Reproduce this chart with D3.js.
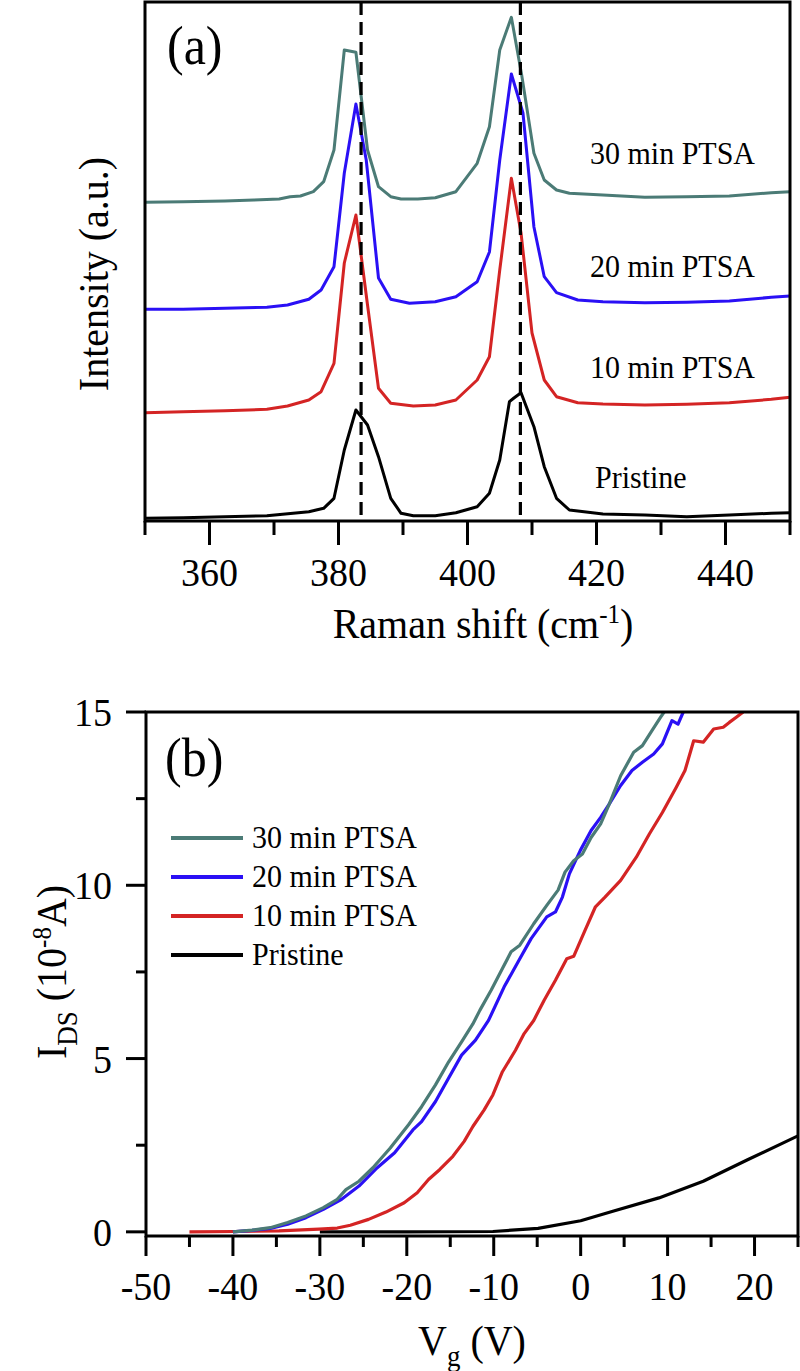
<!DOCTYPE html>
<html><head><meta charset="utf-8">
<script src="https://cdn.jsdelivr.net/npm/d3@7"></script>
<style>
body{margin:0;background:#fff}
svg{display:block}
text{font-family:"Liberation Serif","Times New Roman",serif;fill:#000}
</style>
</head><body>
<svg id="chart" width="800" height="1371"></svg>
<script>
// ---------- Panel (a): Raman spectra (intensity in arbitrary units) ----------
const ramanX30 = [350,355.9,362.4,366.9,370.8,372.5,374.1,376.1,377.7,379.3,380.9,382.7,384.5,386.2,388.1,389.7,392.3,395.0,398.2,401.5,403.4,405.0,406.8,408.4,410.3,411.9,413.8,415.8,421.0,427.5,434.0,440.6,447.1,450];
const ramanY30 = [318.7,319.3,320,321,322,324.3,325,329.3,339.3,371,471,468.7,371,334.3,324.3,322,322,323.3,329.3,357.7,394.3,471,503.7,446,367.7,341,331,327.7,326,323.7,324.3,325,328.3,329.3];
const ramanX20 = [350,355.9,362.4,368.9,372.1,375.4,377.3,379.3,380.9,382.7,384.3,386.2,388.1,391.0,395.0,398.2,401.5,403.4,405.0,406.8,408.6,410.3,411.9,413.8,417.1,421.0,427.5,434.0,440.6,447.1,450];
const ramanY20 = [211.7,211.7,212.7,213.7,216,221.7,231,254.3,348,417,361,243,221.7,217.7,219.3,224.3,239.3,269,361,447,408,294,244.3,228.3,221,219.3,218.3,218.7,220,223.7,225];
const ramanX10 = [350,355.9,362.4,368.9,372.1,375.4,377.3,379.3,380.9,382.7,384.5,386.2,388.1,391.6,395.0,398.2,401.5,403.4,405.0,406.8,408.3,410.0,411.9,413.8,417.1,421.0,427.5,434.0,440.6,447.1,450];
const ramanY10 = [108.3,109.3,110.3,111.7,115,121,129.3,157.7,258,306,216,132.7,117.7,115,116,121,141,164.3,251,342.7,288,188,141,124.3,118.3,117,116,116.7,118.3,121.7,123.7];
const ramanXP = [350,355.9,362.4,368.9,375.4,377.7,379.3,380.9,382.7,384.5,386.2,388.1,389.7,391.6,395.0,398.2,401.5,403.4,405.0,406.5,407.2,408.3,410.3,411.9,413.8,415.8,421.0,427.5,434.0,440.6,447.1,450];
const ramanYP = [2.7,3.3,4.3,5.3,9.3,12.7,22.7,71,111,96,64.3,22.7,7.7,5.3,5.3,8.3,14.3,27.7,61,119.3,123,128.3,94.3,54.3,22.7,11,7,6,4.3,6,7.7,8.3];
const ramanLabels = ["30 min PTSA","20 min PTSA","10 min PTSA","Pristine"];
const peakLines = [383.5, 408.2];
const ramanTicksMajor = [360,380,400,420,440];
const ramanTicksMinor = [350,370,390,410,430,450];

// ---------- Panel (b): transfer curves ----------
const vg30 = [-40,-37.8,-35.7,-33.7,-31.6,-29.6,-28,-27,-25.5,-23.9,-21.9,-19.8,-18.3,-16.7,-15.2,-13.7,-12.4,-11.6,-10.3,-9.0,-8.0,-7.0,-5.4,-3.9,-2.6,-1.8,-0.8,0.2,1.2,2.3,3.3,4.6,6.1,7.1,8.2,9.2,9.6];
const ids30 = [0,0.05,0.12,0.27,0.46,0.70,0.94,1.22,1.46,1.85,2.42,3.09,3.61,4.24,4.90,5.48,6.00,6.39,6.97,7.60,8.08,8.27,8.89,9.42,9.86,10.38,10.71,10.90,11.38,11.77,12.35,13.16,13.84,14.03,14.46,14.85,15];
const vg20 = [-40,-37.8,-35.7,-33.7,-31.6,-29.6,-27.5,-25.5,-23.4,-21.4,-19.3,-18.3,-16.7,-15.2,-13.7,-12.1,-10.6,-8.8,-7.0,-5.7,-3.9,-2.9,-2.1,-1.3,-0.05,1.2,2.3,3.3,4.6,5.9,7.1,8.4,9.4,10.5,11.2,11.8];
const ids20 = [0,0.04,0.10,0.22,0.41,0.65,0.94,1.32,1.85,2.28,2.94,3.18,3.76,4.43,5.10,5.53,6.10,7.07,7.88,8.46,9.09,9.23,9.66,10.33,11.0,11.58,11.96,12.35,12.88,13.31,13.55,13.79,14.08,14.75,14.65,15];
const vg10 = [-45,-39.8,-34.7,-30.1,-28,-26.5,-24.4,-22.4,-20.3,-18.8,-17.5,-16.2,-14.7,-13.4,-12.4,-11.1,-10.1,-9.0,-7.5,-6.5,-5.4,-4.2,-2.9,-1.6,-0.8,0.5,1.7,2.8,4.6,6.4,7.9,9.4,11.0,12.0,13.0,14.1,15.3,16.4,17.1,17.9,18.7];
const ids10 = [0,0.01,0.03,0.08,0.11,0.19,0.36,0.57,0.84,1.13,1.51,1.80,2.18,2.61,3.04,3.52,3.95,4.62,5.24,5.72,6.10,6.68,7.26,7.88,7.95,8.70,9.38,9.66,10.14,10.81,11.48,12.1,12.83,13.31,14.17,14.13,14.51,14.56,14.70,14.85,15];
const vgP = [-30,-20,-10.1,-4.9,0,3.8,9.0,14.1,19.2,25];
const idsP = [0,0,0.01,0.1,0.32,0.6,0.98,1.46,2.08,2.77];
const legendLabels = ["30 min PTSA","20 min PTSA","10 min PTSA","Pristine"];
const vgTicksMajor = [-50,-40,-30,-20,-10,0,10,20];
const vgTicksMinor = [-45,-35,-25,-15,-5,5,15,25];
const idsTicksMajor = [0,5,10,15];
const idsTicksMinor = [2.5,7.5,12.5];

const colors = ["#4b7b76","#2a10f5","#d42424","#000000"];
const STRETCH = 1.08;

const svg = d3.select("#chart");
function txt(x, y, size, anchor, rot){
  const tr = `translate(${x},${y})` + (rot ? ` rotate(${rot})` : "") + ` scale(1,${STRETCH})`;
  return svg.append("text").attr("transform", tr).attr("font-size", size).attr("text-anchor", anchor || "start");
}

// ===== Panel (a) =====
const A = {l:145, r:790, t:2, b:521};
const xa = d3.scaleLinear().domain([350,450]).range([A.l,A.r]);
const ya = d3.scaleLinear().domain([0,519]).range([A.b,A.t]);
const lineA = d3.line().x(d=>xa(d[0])).y(d=>ya(d[1]));
const seriesA = [[ramanX30,ramanY30],[ramanX20,ramanY20],[ramanX10,ramanY10],[ramanXP,ramanYP]];
seriesA.forEach((s,i)=>{
  svg.append("path").datum(d3.zip(s[0],s[1])).attr("d",lineA)
    .attr("fill","none").attr("stroke",colors[i]).attr("stroke-width",3).attr("stroke-linejoin","round");
});
peakLines.forEach(p=>{
  svg.append("line").attr("x1",xa(p)).attr("x2",xa(p)).attr("y1",A.t).attr("y2",A.b)
    .attr("stroke","#000").attr("stroke-width",3.2).attr("stroke-dasharray","13,7");
});
svg.append("rect").attr("x",A.l).attr("y",A.t).attr("width",A.r-A.l).attr("height",A.b-A.t)
  .attr("fill","none").attr("stroke","#000").attr("stroke-width",3);
ramanTicksMajor.forEach(t=>{
  svg.append("line").attr("x1",xa(t)).attr("x2",xa(t)).attr("y1",A.b).attr("y2",A.b+24).attr("stroke","#000").attr("stroke-width",3);
  txt(xa(t),586,38,"middle").text(t);
});
ramanTicksMinor.forEach(t=>{
  svg.append("line").attr("x1",xa(t)).attr("x2",xa(t)).attr("y1",A.b).attr("y2",A.b+14).attr("stroke","#000").attr("stroke-width",3);
});
const labA = [[590,164],[590,277],[590,378],[595,488]];
ramanLabels.forEach((l,i)=>{ txt(labA[i][0],labA[i][1],30).text(l); });
txt(167,64,50).text("(a)");
const tA = txt(483,638,40,"middle");
tA.append("tspan").text("Raman shift (cm");
tA.append("tspan").attr("dy",-14).attr("font-size",25).text("-1");
tA.append("tspan").attr("dy",14).text(")");
txt(108,274,40,"middle",-90).text("Intensity (a.u.)");

// ===== Panel (b) =====
const B = {l:146, r:798, t:712, b:1236};
const xb = d3.scaleLinear().domain([-50,25]).range([B.l,B.r]);
const yb = d3.scaleLinear().domain([-0.12,15]).range([B.b,B.t]);
const lineB = d3.line().x(d=>xb(d[0])).y(d=>yb(d[1]));
svg.append("clipPath").attr("id","clipB").append("rect").attr("x",B.l).attr("y",B.t).attr("width",B.r-B.l).attr("height",B.b-B.t);
const seriesB = [[vg30,ids30],[vg20,ids20],[vg10,ids10],[vgP,idsP]];
[3,2,1,0].forEach(i=>{
  const s = seriesB[i];
  svg.append("path").datum(d3.zip(s[0],s[1])).attr("d",lineB).attr("clip-path","url(#clipB)")
    .attr("fill","none").attr("stroke",colors[i]).attr("stroke-width",3.2).attr("stroke-linejoin","round");
});
svg.append("rect").attr("x",B.l).attr("y",B.t).attr("width",B.r-B.l).attr("height",B.b-B.t)
  .attr("fill","none").attr("stroke","#000").attr("stroke-width",3);
vgTicksMajor.forEach(t=>{
  svg.append("line").attr("x1",xb(t)).attr("x2",xb(t)).attr("y1",B.b).attr("y2",B.b+20).attr("stroke","#000").attr("stroke-width",3);
  txt(xb(t),1300,38,"middle").text(t);
});
vgTicksMinor.forEach(t=>{
  svg.append("line").attr("x1",xb(t)).attr("x2",xb(t)).attr("y1",B.b).attr("y2",B.b+11).attr("stroke","#000").attr("stroke-width",3);
});
idsTicksMajor.forEach(t=>{
  svg.append("line").attr("x1",B.l).attr("x2",B.l-20).attr("y1",yb(t)).attr("y2",yb(t)).attr("stroke","#000").attr("stroke-width",3);
  txt(112,yb(t)+14,38,"end").text(t);
});
idsTicksMinor.forEach(t=>{
  svg.append("line").attr("x1",B.l).attr("x2",B.l-10).attr("y1",yb(t)).attr("y2",yb(t)).attr("stroke","#000").attr("stroke-width",3);
});
const legY = [838,877,916,955];
legendLabels.forEach((l,i)=>{
  svg.append("line").attr("x1",171).attr("x2",243).attr("y1",legY[i]).attr("y2",legY[i]).attr("stroke",colors[i]).attr("stroke-width",4);
  txt(252,legY[i]+10,30).text(l);
});
txt(165,776,50).text("(b)");
const tB = txt(472,1355,40,"middle");
tB.append("tspan").text("V");
tB.append("tspan").attr("dy",10).attr("font-size",27).text("g");
tB.append("tspan").attr("dy",-10).text(" (V)");
const tY = txt(66,972,40,"middle",-90);
tY.append("tspan").text("I");
tY.append("tspan").attr("dy",10).attr("font-size",27).text("DS");
tY.append("tspan").attr("dy",-10).text(" (10");
tY.append("tspan").attr("dy",-14).attr("font-size",25).text("-8");
tY.append("tspan").attr("dy",14).text("A)");
</script>
</body></html>
